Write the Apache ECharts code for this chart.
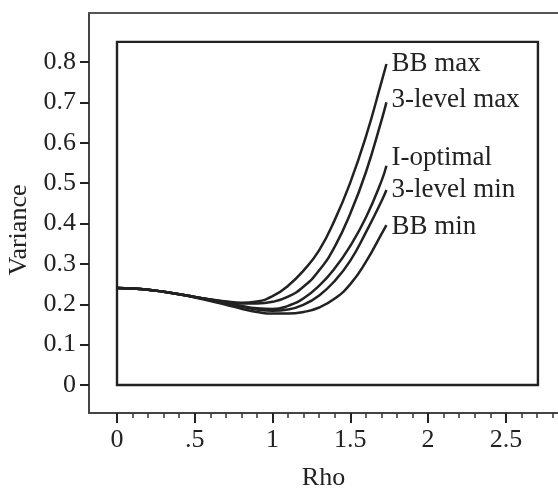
<!DOCTYPE html>
<html>
<head>
<meta charset="utf-8">
<script src="https://cdn.jsdelivr.net/npm/echarts@6/dist/echarts.min.js"></script>
<style>
html,body{margin:0;padding:0;background:#fff;}
#c{width:558px;height:488px;}
</style>
</head>
<body>
<div id="c"></div>
<script>
// ---- data ----
const rho = [0, 0.1, 0.2, 0.3, 0.4, 0.5, 0.6, 0.7, 0.8, 0.9, 1.0, 1.1, 1.2, 1.3, 1.4, 1.5, 1.6, 1.7, 1.732];
const bbMax     = [0.240,0.239,0.236,0.231,0.225,0.218,0.212,0.207,0.204,0.207,0.220,0.246,0.284,0.334,0.409,0.502,0.615,0.750,0.795];
const lvl3Max   = [0.240,0.239,0.236,0.231,0.225,0.218,0.212,0.206,0.202,0.202,0.206,0.219,0.244,0.284,0.343,0.425,0.527,0.655,0.700];
const iOptimal  = [0.240,0.239,0.236,0.231,0.225,0.218,0.211,0.204,0.196,0.190,0.188,0.196,0.215,0.246,0.289,0.345,0.415,0.505,0.543];
const lvl3Min   = [0.240,0.239,0.236,0.231,0.225,0.218,0.210,0.202,0.194,0.187,0.184,0.187,0.199,0.222,0.258,0.308,0.378,0.455,0.483];
const bbMin     = [0.240,0.239,0.236,0.231,0.225,0.217,0.208,0.199,0.189,0.181,0.177,0.177,0.181,0.192,0.214,0.250,0.305,0.374,0.396];
const seriesNames = ["BB max", "3-level max", "I-optimal", "3-level min", "BB min"];
const seriesValues = [bbMax, lvl3Max, iOptimal, lvl3Min, bbMin];
const xTickValues = [0, 0.5, 1, 1.5, 2, 2.5];
const xTickLabels = ["0", ".5", "1", "1.5", "2", "2.5"];
const xMinorTicks = [0.1,0.2,0.3,0.4,0.6,0.7,0.8,0.9,1.1,1.2,1.3,1.4,1.6,1.7,1.8,1.9,2.1,2.2,2.3,2.4,2.6,2.7,2.8];
const yTickValues = [0, 0.1, 0.2, 0.3, 0.4, 0.5, 0.6, 0.7, 0.8];
const yTickLabels = ["0", "0.1", "0.2", "0.3", "0.4", "0.5", "0.6", "0.7", "0.8"];
const innerBox = { x1: 0, y1: 0, x2: 2.706, y2: 0.85 };

// ---- chart ----
const FONT = '"Liberation Serif", "Times New Roman", serif';
const INK = '#222';
const X_MIN = -0.18, X_MAX = 2.835, Y_MIN = -0.0693, Y_MAX = 0.9214;
const labelOffsets = [[0, 0], [0, -2], [0, -8], [0, 0], [0, 2]];

const chart = echarts.init(document.getElementById('c'), null, { renderer: 'canvas' });
const series = seriesNames.map((name, i) => ({
  name: name,
  type: 'line',
  xAxisIndex: 0,
  yAxisIndex: 0,
  smooth: true,
  showSymbol: false,
  symbol: 'none',
  lineStyle: { color: INK, width: 2.5 },
  data: rho.map((r, k) => [r, seriesValues[i][k]]),
  endLabel: {
    show: true,
    formatter: name,
    fontFamily: FONT,
    fontSize: 27,
    color: INK,
    distance: 5,
    offset: labelOffsets[i]
  },
  markArea: i === 0 ? {
    silent: true,
    itemStyle: { color: 'rgba(0,0,0,0)', borderColor: INK, borderWidth: 2.4 },
    data: [[{ coord: [innerBox.x1, innerBox.y1] }, { coord: [innerBox.x2, innerBox.y2] }]]
  } : undefined
}));

chart.setOption({
  animation: false,
  backgroundColor: '#fff',
  grid: { left: 89, top: 13, right: 0, bottom: 75, containLabel: false, outerBoundsMode: 'none' },
  xAxis: [
    {
      type: 'value', position: 'bottom', min: X_MIN, max: X_MAX,
      name: 'Rho', nameLocation: 'middle', nameGap: 52,
      nameTextStyle: { fontFamily: FONT, fontSize: 26, color: INK },
      axisLine: { show: true, onZero: false, lineStyle: { color: '#444', width: 2 } },
      axisTick: { show: true, length: 10, customValues: xTickValues, lineStyle: { color: INK, width: 2 } },
      axisLabel: {
        show: true, customValues: xTickValues, margin: 14,
        fontFamily: FONT, fontSize: 26, color: INK,
        formatter: v => xTickLabels[xTickValues.indexOf(v)] ?? ''
      },
      splitLine: { show: false }
    },
    {
      type: 'value', position: 'bottom', min: X_MIN, max: X_MAX,
      axisLine: { show: false, onZero: false },
      axisTick: { show: true, length: 5, customValues: xMinorTicks, lineStyle: { color: '#333', width: 1.5 } },
      axisLabel: { show: false },
      splitLine: { show: false }
    },
    {
      type: 'value', position: 'top', min: X_MIN, max: X_MAX,
      axisLine: { show: true, onZero: false, lineStyle: { color: '#555', width: 2 } },
      axisTick: { show: false }, axisLabel: { show: false }, splitLine: { show: false }
    }
  ],
  yAxis: [
    {
      type: 'value', position: 'left', min: Y_MIN, max: Y_MAX,
      name: 'Variance', nameLocation: 'middle', nameGap: 51, nameRotate: 90,
      nameTextStyle: { fontFamily: FONT, fontSize: 26, color: INK, padding: [0, 34, 0, 0] },
      axisLine: { show: true, onZero: false, lineStyle: { color: '#444', width: 2 } },
      axisTick: { show: true, length: 9, customValues: yTickValues, lineStyle: { color: INK, width: 2 } },
      axisLabel: {
        show: true, customValues: yTickValues, margin: 13,
        fontFamily: FONT, fontSize: 26, color: INK,
        formatter: v => yTickLabels[yTickValues.indexOf(v)] ?? ''
      },
      splitLine: { show: false }
    }
  ],
  series: series
});
</script>
</body>
</html>
